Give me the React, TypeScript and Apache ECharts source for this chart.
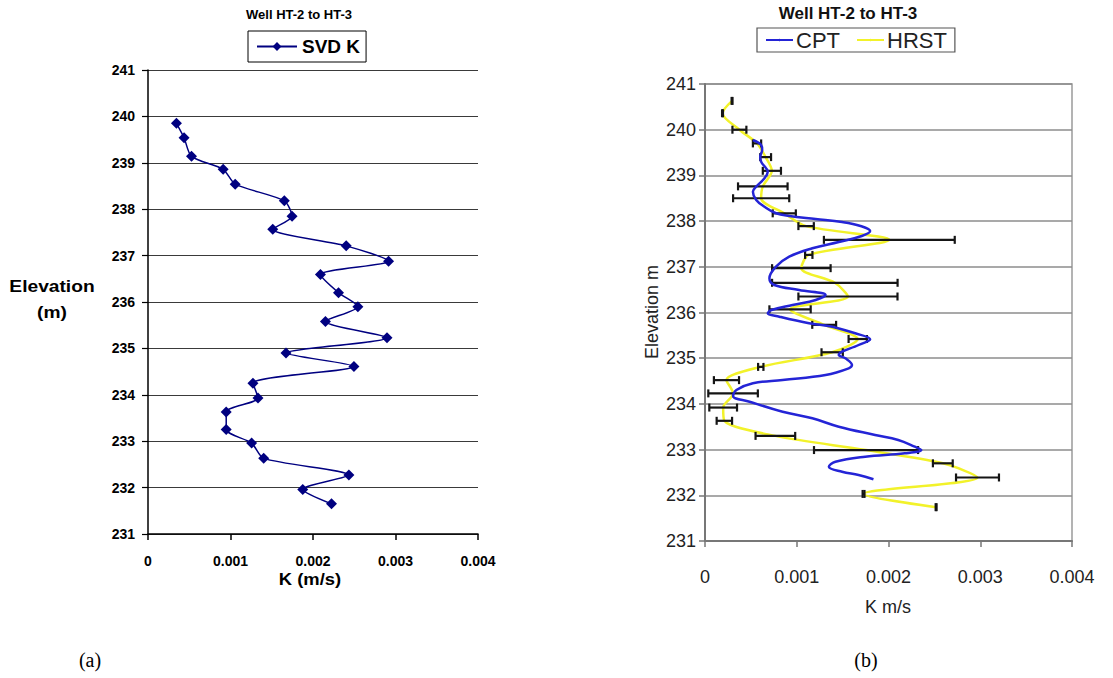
import React, { useEffect, useRef } from "react";
import * as echarts from "echarts";

// Panel (a): SVD-derived hydraulic conductivity vs elevation
const svdElevation = [
  239.85, 239.54, 239.14, 238.86, 238.54, 238.18, 237.85, 237.57, 237.21, 236.88,
  236.59, 236.2, 235.9, 235.58, 235.23, 234.9, 234.61, 234.25, 233.93, 233.63,
  233.25, 232.96, 232.63, 232.27, 231.96, 231.65,
];
const svdK = [
  0.000345, 0.000437, 0.000527, 0.000911, 0.001057, 0.001652, 0.001746, 0.001512, 0.002402, 0.002916,
  0.00209, 0.002309, 0.002544, 0.002151, 0.002897, 0.001673, 0.002496, 0.001272, 0.001333, 0.000948,
  0.000948, 0.001256, 0.001402, 0.002435, 0.001876, 0.002224,
];

// Panel (b): CPT profile
const cptElevation = [
  239.775, 239.665, 239.556, 239.409, 239.3, 239.155, 239.081, 238.937, 238.753, 238.643,
  238.462, 238.315, 238.171, 238.112, 238.046, 237.98, 237.893, 237.783, 237.674, 237.543,
  237.405, 237.221, 237.002, 236.748, 236.602, 236.492, 236.383, 236.274, 236.164, 236.055,
  235.982, 235.908, 235.764, 235.689, 235.545, 235.414, 235.289, 235.07, 234.998, 234.851,
  234.779, 234.632, 234.523, 234.451, 234.304, 234.173, 234.048, 233.829, 233.685, 233.501,
  233.32, 233.21, 233.063, 232.991, 232.919, 232.845, 232.735, 232.626, 232.516, 232.444,
  232.35,
];
const cptK = [
  0.000522, 0.000612, 0.000623, 0.000602, 0.000612, 0.000666, 0.000684, 0.000648, 0.000558, 0.000522,
  0.000558, 0.000648, 0.000774, 0.000918, 0.001206, 0.001494, 0.001695, 0.0018, 0.001709, 0.001458,
  0.00117, 0.000918, 0.000774, 0.000702, 0.000756, 0.001026, 0.001314, 0.001206, 0.000954, 0.000724,
  0.000684, 0.00081, 0.001134, 0.001386, 0.001638, 0.0018, 0.001674, 0.001458, 0.00153, 0.001602,
  0.001566, 0.001314, 0.000846, 0.000522, 0.000342, 0.000306, 0.000486, 0.000846, 0.00117, 0.001458,
  0.001854, 0.002106, 0.002286, 0.002357, 0.002178, 0.001746, 0.001422, 0.00135, 0.001494, 0.001674,
  0.001836,
];

// Panel (b): HRST profile with +/- error
const hrstElevation = [
  240.63, 240.36, 240.0, 239.7, 239.4, 239.1, 238.76, 238.5, 238.17, 237.89,
  237.59, 237.26, 236.97, 236.65, 236.35, 236.07, 235.73, 235.42, 235.13, 234.81,
  234.52, 234.23, 233.92, 233.63, 233.3, 232.99, 232.7, 232.39, 232.03, 231.74,
];
const hrstK = [
  0.000295, 0.000191, 0.000375, 0.000567, 0.000661, 0.000729, 0.00063, 0.000612, 0.000864, 0.001102,
  0.002009, 0.001131, 0.00105, 0.001415, 0.001558, 0.000927, 0.001299, 0.001665, 0.001386, 0.000608,
  0.000234, 0.000306, 0.000198, 0.000211, 0.000767, 0.001755, 0.002592, 0.00297, 0.001728, 0.002519,
];
const hrstErr = [
  0.000005, 0.000005, 0.000076, 0.000045, 0.000059, 0.000099, 0.00027, 0.000306, 0.000126, 0.000084,
  0.000713, 0.00004, 0.000319, 0.000684, 0.00054, 0.000225, 0.00013, 0.0001, 0.000116, 0.000029,
  0.000137, 0.00027, 0.000151, 0.000084, 0.000216, 0.000567, 0.000108, 0.000234, 0.00001, 0.000005,
];

const kTicks = { min: 0, max: 0.004, interval: 0.001 };
const elevTicks = { min: 231, max: 241, interval: 1 };
const title = "Well HT-2 to HT-3";

const ARIAL = 'Arial, "Liberation Sans", Helvetica, sans-serif';
const TIMES = '"Times New Roman", "Liberation Serif", serif';

const kLabel = (v: number) => (Math.abs(v) < 1e-12 ? "0" : v.toFixed(3));

// Centered text element for the graphic component
const label = (
  text: string,
  x: number,
  y: number,
  font: { size: number; bold?: boolean; family?: string; fill?: string },
  extra: Record<string, any> = {}
) => ({
  type: "text",
  x,
  y,
  ...extra,
  style: {
    text,
    fontFamily: font.family || ARIAL,
    fontWeight: font.bold ? "bold" : "normal",
    fontSize: font.size,
    fill: font.fill || "#000",
    textAlign: "center",
    textVerticalAlign: "middle",
  },
});

export default function App() {
  const ref = useRef<HTMLDivElement>(null);

  useEffect(() => {
    if (!ref.current) return;
    const chart = echarts.init(ref.current, undefined, { renderer: "svg" });

    const svdData = svdK.map((k, i) => [k, svdElevation[i]]);
    const cptData = cptK.map((k, i) => [k, cptElevation[i]]);
    const hrstData = hrstK.map((k, i) => [k, hrstElevation[i]]);
    const errData = hrstK.map((k, i) => [k, hrstElevation[i], hrstErr[i]]);

    const option: any = {
      animation: false,
      backgroundColor: "#ffffff",
      grid: [
        { left: 148, top: 70, width: 330, height: 464, show: false },
        {
          left: 705,
          top: 84,
          width: 367,
          height: 457,
          show: true,
          borderColor: "#9a9a9a",
          borderWidth: 1.5,
          backgroundColor: "transparent",
        },
      ],
      xAxis: [
        {
          gridIndex: 0,
          type: "value",
          ...kTicks,
          axisLine: { show: true, onZero: false, lineStyle: { color: "#000", width: 1.5 } },
          axisTick: { show: true, inside: false, length: 6, lineStyle: { color: "#000", width: 1.5 } },
          axisLabel: {
            formatter: kLabel,
            fontFamily: ARIAL,
            fontWeight: "bold",
            fontSize: 14,
            color: "#000",
            margin: 20,
          },
          splitLine: { show: false },
        },
        {
          gridIndex: 1,
          type: "value",
          ...kTicks,
          axisLine: { show: true, onZero: false, lineStyle: { color: "#777", width: 2 } },
          axisTick: { show: true, inside: false, length: 6, lineStyle: { color: "#777", width: 1.5 } },
          axisLabel: {
            formatter: kLabel,
            fontFamily: ARIAL,
            fontSize: 18,
            color: "#222",
            margin: 27,
          },
          splitLine: { show: false },
        },
      ],
      yAxis: [
        {
          gridIndex: 0,
          type: "value",
          ...elevTicks,
          axisLine: { show: true, onZero: false, lineStyle: { color: "#000", width: 1.5 } },
          axisTick: { show: true, inside: false, length: 6, lineStyle: { color: "#000", width: 1.2 } },
          axisLabel: {
            fontFamily: ARIAL,
            fontWeight: "bold",
            fontSize: 14,
            color: "#000",
            margin: 13,
          },
          splitLine: { show: true, lineStyle: { color: "#3a3a3a", width: 1.2 } },
        },
        {
          gridIndex: 1,
          type: "value",
          ...elevTicks,
          axisLine: { show: true, onZero: false, lineStyle: { color: "#777", width: 2 } },
          axisTick: { show: true, inside: false, length: 6, lineStyle: { color: "#777", width: 1.5 } },
          axisLabel: {
            fontFamily: ARIAL,
            fontSize: 18,
            color: "#222",
            margin: 9,
          },
          splitLine: { show: true, lineStyle: { color: "#8c8c8c", width: 1.5 } },
        },
      ],
      legend: [
        {
          data: ["SVD K"],
          left: 248,
          top: 31,
          orient: "horizontal",
          itemWidth: 40,
          itemHeight: 11,
          itemGap: 4,
          padding: [6, 6, 6, 8],
          borderColor: "#000",
          borderWidth: 1,
          backgroundColor: "#fff",
          textStyle: { fontFamily: ARIAL, fontWeight: "bold", fontSize: 19, color: "#000" },
        },
        {
          data: ["CPT", "HRST"],
          left: 757,
          top: 28,
          orient: "horizontal",
          itemWidth: 27,
          itemHeight: 3,
          itemGap: 16,
          padding: [1, 8, 1, 8],
          borderColor: "#555",
          borderWidth: 1.2,
          backgroundColor: "#fff",
          textStyle: { fontFamily: ARIAL, fontSize: 22, color: "#222", padding: [0, 0, 0, -2] },
        },
      ],
      graphic: [
        label(title, 299, 14, { size: 13, bold: true }),
        label(title, 848, 13, { size: 17, bold: true, fill: "#111" }),
        label("Elevation", 52, 287, { size: 16, bold: true }, { scaleX: 1.2 }),
        label("(m)", 52, 313, { size: 16, bold: true }, { scaleX: 1.2 }),
        label("K (m/s)", 310, 579, { size: 16, bold: true }, { scaleX: 1.15 }),
        label("Elevation m", 652, 312, { size: 18, fill: "#222" }, { rotation: Math.PI / 2 }),
        label("K m/s", 888, 607, { size: 18, fill: "#222" }),
        label("(a)", 90, 660, { size: 20, family: TIMES }),
        label("(b)", 866, 660, { size: 20, family: TIMES }),
      ],
      series: [
        {
          name: "SVD K",
          type: "line",
          xAxisIndex: 0,
          yAxisIndex: 0,
          data: svdData,
          smooth: 0.25,
          symbol: "diamond",
          symbolSize: 11,
          showSymbol: true,
          lineStyle: { color: "#000080", width: 1.5 },
          itemStyle: { color: "#000080" },
        },
        {
          name: "HRST",
          type: "line",
          xAxisIndex: 1,
          yAxisIndex: 1,
          data: hrstData,
          smooth: 0.3,
          symbol: "none",
          lineStyle: { color: "#f2f22a", width: 2.5 },
          itemStyle: { color: "#f2f22a" },
          z: 2,
        },
        {
          name: "HRST error",
          type: "custom",
          xAxisIndex: 1,
          yAxisIndex: 1,
          data: errData,
          encode: { x: 0, y: 1 },
          z: 3,
          renderItem: (_params: any, api: any) => {
            const k = api.value(0);
            const e = api.value(1);
            const err = api.value(2);
            const a = api.coord([k - err, e]);
            const b = api.coord([k + err, e]);
            const cap = 4;
            const style = { stroke: "#151515", lineWidth: 2.2 };
            return {
              type: "group",
              children: [
                { type: "line", shape: { x1: a[0], y1: a[1], x2: b[0], y2: b[1] }, style },
                { type: "line", shape: { x1: a[0], y1: a[1] - cap, x2: a[0], y2: a[1] + cap }, style },
                { type: "line", shape: { x1: b[0], y1: b[1] - cap, x2: b[0], y2: b[1] + cap }, style },
              ],
            };
          },
        },
        {
          name: "CPT",
          type: "line",
          xAxisIndex: 1,
          yAxisIndex: 1,
          data: cptData,
          smooth: 0.4,
          symbol: "none",
          lineStyle: { color: "#2424d6", width: 2.5 },
          itemStyle: { color: "#2424d6" },
          z: 4,
        },
      ],
    };

    chart.setOption(option);
    return () => chart.dispose();
  }, []);

  return (
    <div
      ref={ref}
      style={{ position: "fixed", left: 0, top: 0, width: 1113, height: 678, background: "#fff" }}
    />
  );
}
